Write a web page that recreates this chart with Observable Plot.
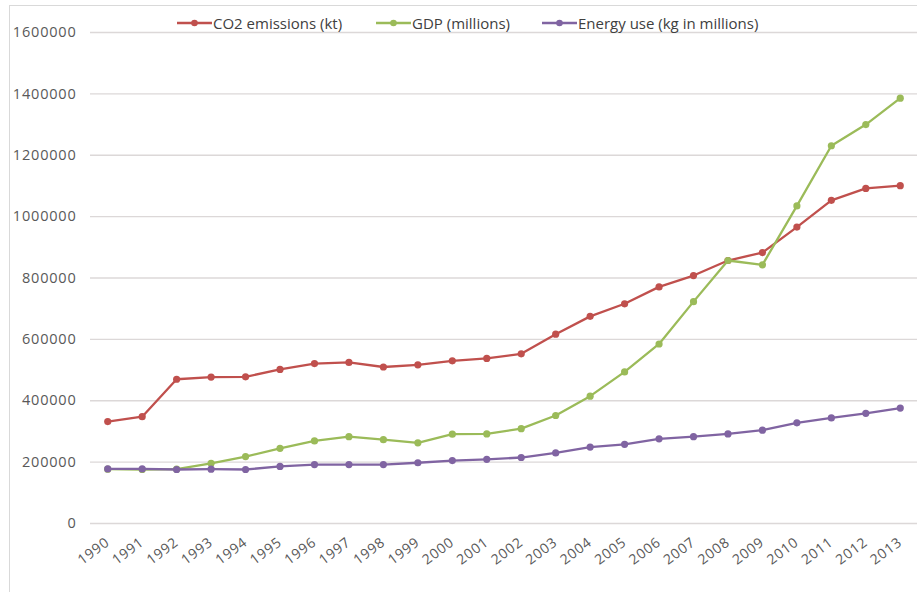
<!DOCTYPE html>
<html>
<head>
<meta charset="utf-8">
<script src="https://cdn.jsdelivr.net/npm/d3@7"></script>
<script src="https://cdn.jsdelivr.net/npm/@observablehq/plot@0.6"></script>
<style>
  html, body { margin: 0; padding: 0; background: #fff; }
  #wrap { position: relative; width: 917px; height: 592px; overflow: hidden; font-family: "Open Sans", sans-serif; }
  #frame { position: absolute; left: 9px; top: 5px; width: 1000px; height: 700px; border: 1px solid #d9d9d9; box-sizing: border-box; }
  #chart { position: absolute; left: 0; top: 0; }
  #chart text { letter-spacing: 0.8px; }
  .leg { position: absolute; top: 14px; display: flex; align-items: center; font-size: 15px; color: #404040; white-space: nowrap; height: 18px; }
  .leg svg { margin-right: 1px; }
</style>
</head>
<body>
<div id="wrap">
  <div id="frame"></div>
  <div id="chart"></div>
  <div id="legend"></div>
</div>
<script>
const years = ["1990","1991","1992","1993","1994","1995","1996","1997","1998","1999","2000","2001","2002","2003","2004","2005","2006","2007","2008","2009","2010","2011","2012","2013"];
const seriesNames = ["CO2 emissions (kt)", "GDP (millions)", "Energy use (kg in millions)"];
const seriesColors = ["#C0504D", "#9BBB59", "#8064A2"];
const co2 = [332000, 348000, 470000, 477000, 478000, 502000, 521000, 525000, 510000, 517000, 530000, 538000, 553000, 617000, 675000, 716000, 771000, 808000, 857000, 883000, 966000, 1053000, 1092000, 1101000];
const gdp = [177000, 176000, 177000, 196000, 218000, 245000, 269000, 283000, 273000, 263000, 291000, 292000, 309000, 352000, 415000, 494000, 585000, 723000, 857000, 843000, 1035000, 1231000, 1300000, 1386000];
const energy = [178000, 178000, 176000, 177000, 176000, 186000, 192000, 192000, 192000, 198000, 205000, 209000, 215000, 230000, 249000, 258000, 276000, 283000, 292000, 304000, 328000, 344000, 359000, 376000];
const yTicks = [0, 200000, 400000, 600000, 800000, 1000000, 1200000, 1400000, 1600000];

const valuesBySeries = [co2, gdp, energy];
const data = [];
seriesNames.forEach((s, i) => {
  years.forEach((y, j) => data.push({series: s, year: y, value: valuesBySeries[i][j]}));
});

const seriesMarks = seriesNames.flatMap((s, i) => {
  const rows = data.filter(d => d.series === s);
  return [
    Plot.line(rows, {x: "year", y: "value", stroke: seriesColors[i], strokeWidth: 2.3}),
    Plot.dot(rows, {x: "year", y: "value", fill: seriesColors[i], r: 3.6})
  ];
});

const chart = Plot.plot({
  width: 917,
  height: 592,
  marginLeft: 90,
  marginRight: 0,
  marginTop: 32,
  marginBottom: 69,
  style: {fontFamily: "Open Sans, sans-serif", fontSize: "14px", color: "#595959", background: "transparent"},
  x: {type: "point", domain: years, padding: 0.5, round: false, label: null},
  y: {domain: [0, 1600000], label: null},
  marks: [
    Plot.ruleY(yTicks, {stroke: "#dcd8d8", strokeWidth: 1.4}),
    Plot.axisY(yTicks, {tickSize: 0, tickPadding: 14, tickFormat: d3.format("d"), fill: "#595959", fontSize: 14.5, label: null}),
    Plot.axisX({tickSize: 0, tickPadding: 17, tickRotate: -37, fill: "#595959", fontSize: 14, label: null}),
    ...seriesMarks
  ]
});
document.getElementById("chart").appendChild(chart);

const legendLefts = [177, 376, 542];
const legend = document.getElementById("legend");
seriesNames.forEach((s, i) => {
  const item = document.createElement("div");
  item.className = "leg";
  item.style.left = legendLefts[i] + "px";
  item.innerHTML = `<svg width="35" height="10"><line x1="0" y1="5" x2="35" y2="5" stroke="${seriesColors[i]}" stroke-width="2.3"/><circle cx="17.5" cy="5" r="3.3" fill="${seriesColors[i]}"/></svg><span>${s}</span>`;
  legend.appendChild(item);
});
</script>
</body>
</html>
